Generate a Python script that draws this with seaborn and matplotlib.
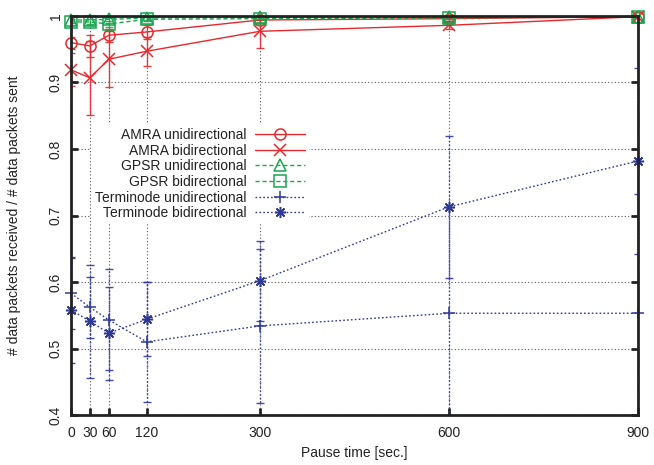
import numpy as np
import matplotlib
matplotlib.use("Agg")
import matplotlib.pyplot as plt
import seaborn as sns

# Pause times (seconds)
pause = [0, 30, 60, 120, 300, 600, 900]

# Delivery ratio per protocol / traffic mode, with error-bar half widths
amra_uni = [0.960, 0.955, 0.971, 0.976, 0.994, 0.996, 0.999]
amra_uni_err = [0.009, 0.016, 0.010, 0.010, 0.005, 0.003, 0.001]
amra_bi = [0.919, 0.907, 0.935, 0.947, 0.977, 0.986, 0.999]
amra_bi_err = [0.025, 0.056, 0.042, 0.022, 0.025, 0.005, 0.001]
gpsr_uni = [0.994, 0.994, 0.995, 0.997, 0.998, 0.998, 0.999]
gpsr_uni_err = [0.004, 0.006, 0.006, 0.003, 0.002, 0.002, 0.001]
gpsr_bi = [0.991, 0.991, 0.988, 0.995, 0.996, 0.997, 0.999]
gpsr_bi_err = [0.004, 0.004, 0.005, 0.003, 0.002, 0.002, 0.001]
term_uni = [0.583, 0.562, 0.543, 0.510, 0.534, 0.553, 0.553]
term_uni_err = [0.053, 0.046, 0.076, 0.090, 0.116, 0.160, 0.180]
term_bi = [0.558, 0.541, 0.523, 0.544, 0.602, 0.713, 0.782]
term_bi_err = [0.080, 0.085, 0.070, 0.056, 0.060, 0.107, 0.140]

labels = ["AMRA unidirectional", "AMRA bidirectional",
          "GPSR unidirectional", "GPSR bidirectional",
          "Terminode unidirectional", "Terminode bidirectional"]
y_ticks = [0.4, 0.5, 0.6, 0.7, 0.8, 0.9, 1.0]
y_tick_labels = ["0.4", "0.5", "0.6", "0.7", "0.8", "0.9", "1"]

RED, GREEN, BLUE = "#e8282c", "#1aa650", "#2e3a96"
series = [
    (amra_uni, amra_uni_err, RED, "o", "-"),
    (amra_bi, amra_bi_err, RED, "x", "-"),
    (gpsr_uni, gpsr_uni_err, GREEN, "^", (0, (3, 2))),
    (gpsr_bi, gpsr_bi_err, GREEN, "s", (0, (3, 2))),
    (term_uni, term_uni_err, BLUE, "+", (0, (1.2, 1.6))),
    (term_bi, term_bi_err, BLUE, (8, 2, 0), (0, (1.2, 1.6))),
]

sns.set_theme(style="white")
plt.rcParams["font.family"] = ["Liberation Sans", "DejaVu Sans"]

fig = plt.figure(figsize=(6.54, 4.65), dpi=100)
ax = fig.add_axes([0.1086, 0.1075, 0.8669, 0.8581])

handles = []
for (vals, errs, col, mk, ls), lab in zip(series, labels):
    eb = ax.errorbar(pause, vals, yerr=errs, fmt="none", ecolor=col,
                     elinewidth=1.0, capsize=3, capthick=1.0, zorder=3,
                     alpha=0.9)
    for bl in eb.lines[2]:
        bl.set_linestyle(ls)
    sns.lineplot(x=pause, y=vals, ax=ax, color=col, marker=mk,
                 linestyle=ls, linewidth=1.0, markersize=8,
                 markerfacecolor="none", markeredgecolor=col,
                 markeredgewidth=1.1, label=lab, clip_on=False,
                 zorder=4, legend=False)
    handles.append(ax.get_lines()[-1])

ax.set_xlim(0, 900)
ax.set_ylim(0.4, 1.0)
ax.set_xticks(pause)
ax.set_xticklabels([str(p) for p in pause])
ax.set_yticks(y_ticks)
ax.set_yticklabels(y_tick_labels, rotation=90, va="center")

ax.grid(True, color="#555555", linestyle=(0, (1, 2)), linewidth=0.8)
ax.set_axisbelow(True)
for sp in ax.spines.values():
    sp.set_visible(True)
    sp.set_color("#222222")
    sp.set_linewidth(2.0)
    sp.set_zorder(5)

ax.tick_params(axis="both", direction="in", length=5, width=2,
               color="#222222", labelsize=10, labelcolor="#222222",
               top=False, right=True, left=True, bottom=True)
ax.tick_params(axis="x", pad=8)
ax.tick_params(axis="y", pad=6)

ax.set_xlabel("Pause time [sec.]", fontsize=10, color="#222222", labelpad=4)
ax.set_ylabel("# data packets received / # data packets sent",
              fontsize=10, color="#222222", labelpad=20)

leg = ax.legend(handles, labels, loc="upper right",
                bbox_to_anchor=(0.42, 0.73), markerfirst=False,
                alignment="right", frameon=True, fontsize=10,
                handlelength=3.6, handletextpad=0.6, labelspacing=0.12,
                borderpad=0.3, borderaxespad=0.0)
leg.get_frame().set_facecolor("white")
leg.get_frame().set_edgecolor("none")
leg.get_frame().set_alpha(1.0)
leg.set_zorder(6)
for t in leg.get_texts():
    t.set_color("#222222")

fig.savefig("out.png", dpi=100)
